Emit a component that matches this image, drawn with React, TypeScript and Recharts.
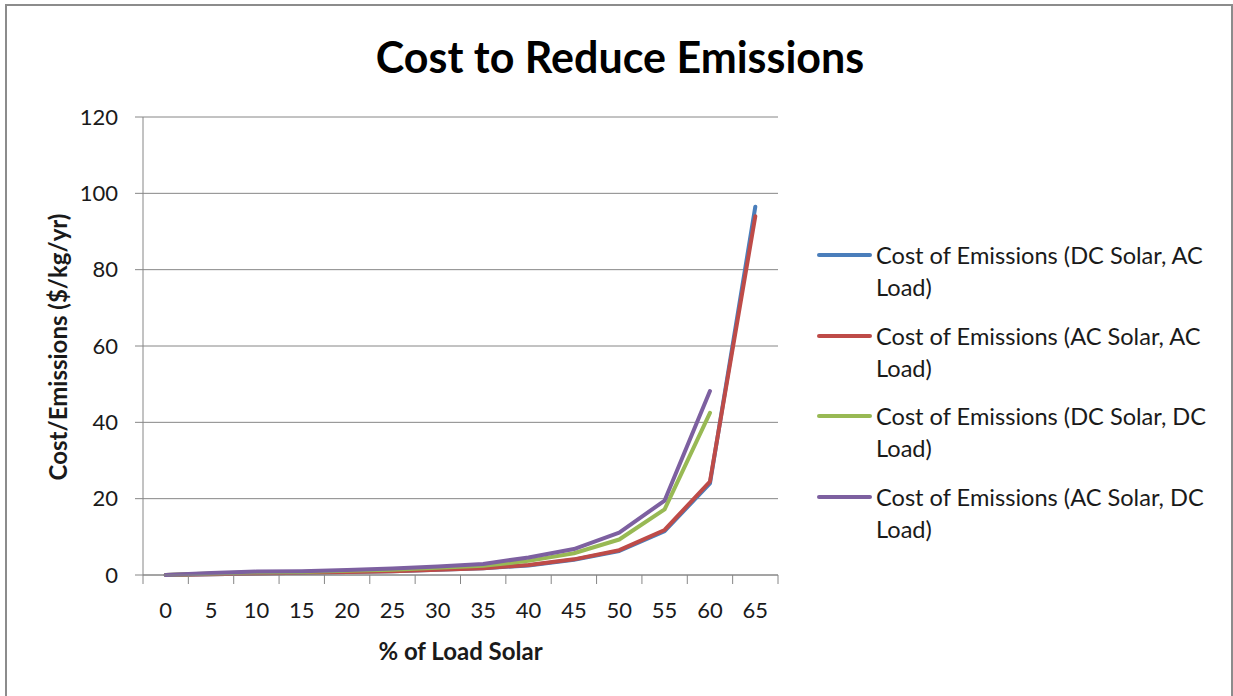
import React from 'react';
import { LineChart, Line, XAxis, YAxis, CartesianGrid, Legend } from 'recharts';

const W = 1233;
const H = 696;
const FONT = 'Lato, "Open Sans", sans-serif';
const AXIS_GRAY = '#868686';
const TEXT = '#1a1a1a';

// % of load supplied by solar
const categories = [0, 5, 10, 15, 20, 25, 30, 35, 40, 45, 50, 55, 60, 65];
const yTicks = [0, 20, 40, 60, 80, 100, 120];

// Cost/Emissions ($/kg/yr) for each configuration
const dcSolarAcLoad = [0, 0.2, 0.4, 0.6, 0.8, 1.0, 1.4, 1.8, 2.5, 4.0, 6.3, 11.5, 24.0, 96.5];
const acSolarAcLoad = [0, 0.2, 0.4, 0.6, 0.8, 1.0, 1.4, 1.8, 2.6, 4.1, 6.5, 11.8, 24.5, 94.0];
const dcSolarDcLoad = [0, 0.4, 0.7, 0.8, 1.1, 1.4, 1.9, 2.4, 3.7, 5.7, 9.3, 17.2, 42.5, null];
const acSolarDcLoad = [0, 0.5, 0.9, 1.0, 1.3, 1.7, 2.2, 2.9, 4.6, 6.8, 11.1, 19.5, 48.2, null];

const seriesNames = [
  'Cost of Emissions (DC Solar, AC Load)',
  'Cost of Emissions (AC Solar, AC Load)',
  'Cost of Emissions (DC Solar, DC Load)',
  'Cost of Emissions (AC Solar, DC Load)',
];
const seriesColors = ['#4a7ebb', '#be4b48', '#98b954', '#7d60a0'];
const seriesValues = [dcSolarAcLoad, acSolarAcLoad, dcSolarDcLoad, acSolarDcLoad];

const data = categories.map((pct, i) => {
  const row: Record<string, number | null> = { pct };
  seriesValues.forEach((vals, s) => {
    row[`s${s}`] = vals[i];
  });
  return row;
});

// Category axis: labels at category values, tick marks on the boundaries between them.
const halfStep = (categories[1] - categories[0]) / 2;
const edgeTicks = [categories[0] - halfStep, ...categories.map((c) => c + halfStep)];
const xTicks = [...edgeTicks, ...categories].sort((a, b) => a - b);
const xDomain = [edgeTicks[0], edgeTicks[edgeTicks.length - 1]];

function XTick(props: any) {
  const { x, y, payload } = props;
  const v = payload.value;
  if (categories.includes(v)) {
    return (
      <text x={x} y={y + 43} textAnchor="middle" fontSize={22} fill={TEXT} fontFamily={FONT}>
        {v}
      </text>
    );
  }
  return <line x1={x} x2={x} y1={y} y2={y + 9} stroke={AXIS_GRAY} strokeWidth={1} />;
}

function LegendBox() {
  return (
    <div style={{ fontFamily: FONT, fontSize: 23.6, color: TEXT }}>
      {seriesNames.map((name, i) => {
        const cut = name.lastIndexOf(' ');
        return (
          <div key={name} style={{ display: 'flex', height: 80.7 }}>
            <div
              style={{
                width: 55,
                height: 4,
                borderRadius: 2,
                background: seriesColors[i],
                marginTop: 14,
                flex: 'none',
              }}
            />
            <div style={{ marginLeft: 4, lineHeight: '32px', whiteSpace: 'nowrap' }}>
              {name.slice(0, cut)}
              <br />
              {name.slice(cut + 1)}
            </div>
          </div>
        );
      })}
    </div>
  );
}

export default function App() {
  return (
    <div
      style={{
        position: 'absolute',
        left: 0,
        top: 0,
        width: W,
        height: H,
        overflow: 'hidden',
        background: '#fff',
      }}
    >
      <div
        style={{
          position: 'absolute',
          left: 5,
          top: 4,
          width: W - 5,
          height: H + 10,
          boxSizing: 'border-box',
          border: '2px solid #8c8c8c',
        }}
      />
      <div
        style={{
          position: 'absolute',
          left: 0,
          width: 1240,
          top: 31,
          textAlign: 'center',
          fontFamily: FONT,
          fontWeight: 700,
          fontSize: 43,
          lineHeight: '52px',
          color: '#000',
        }}
      >
        Cost to Reduce Emissions
      </div>
      <div style={{ position: 'absolute', left: 0, top: 0 }}>
        <LineChart
          width={W}
          height={H}
          data={data}
          margin={{ top: 117, right: 55, bottom: 61, left: 63 }}
        >
          <CartesianGrid vertical={false} stroke={AXIS_GRAY} strokeWidth={1} />
          <XAxis
            dataKey="pct"
            type="number"
            domain={xDomain}
            ticks={xTicks}
            interval={0}
            tickLine={false}
            tickSize={0}
            tickMargin={0}
            tick={<XTick />}
            axisLine={{ stroke: AXIS_GRAY }}
            height={60}
            label={{
              content: (p: any) => {
                const vb = p.viewBox;
                return (
                  <text
                    x={vb.x + vb.width / 2}
                    y={H - 36}
                    textAnchor="middle"
                    fontFamily={FONT}
                    fontWeight={700}
                    fontSize={24}
                    fill={TEXT}
                  >
                    % of Load Solar
                  </text>
                );
              },
            }}
          />
          <YAxis
            type="number"
            domain={[0, 120]}
            ticks={yTicks}
            interval={0}
            width={80}
            tickSize={8}
            tickMargin={17}
            tickLine={{ stroke: AXIS_GRAY }}
            axisLine={{ stroke: AXIS_GRAY }}
            tick={{ fontSize: 22, fill: TEXT, fontFamily: FONT }}
            label={{
              content: (p: any) => {
                const vb = p.viewBox;
                const cx = 57;
                const cy = vb.y + vb.height / 2 + 1;
                return (
                  <text
                    x={cx}
                    y={cy}
                    transform={`rotate(-90 ${cx} ${cy})`}
                    textAnchor="middle"
                    dominantBaseline="central"
                    fontFamily={FONT}
                    fontWeight={700}
                    fontSize={24}
                    fill={TEXT}
                  >
                    Cost/Emissions ($/kg/yr)
                  </text>
                );
              },
            }}
          />
          <Legend
            layout="vertical"
            align="right"
            verticalAlign="middle"
            content={<LegendBox />}
            wrapperStyle={{ position: 'absolute', left: 817, top: 239, width: 400, height: 330 }}
          />
          {seriesNames.map((name, i) => (
            <Line
              key={name}
              name={name}
              dataKey={`s${i}`}
              type="linear"
              stroke={seriesColors[i]}
              strokeWidth={4}
              strokeLinejoin="round"
              strokeLinecap="round"
              dot={false}
              activeDot={false}
              isAnimationActive={false}
            />
          ))}
        </LineChart>
      </div>
    </div>
  );
}
